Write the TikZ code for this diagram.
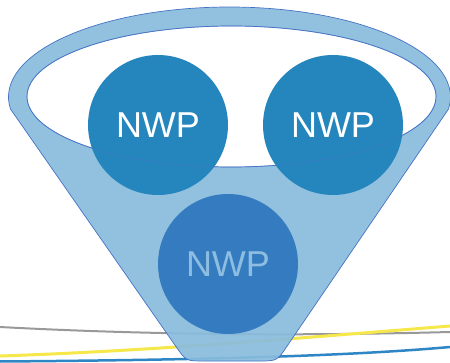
\documentclass[tikz,border=0pt]{standalone}
\usepackage{fontspec}
\setmainfont{Liberation Sans}
\usepackage{tikz}
\usetikzlibrary{calc}
\definecolor{funnelfill}{HTML}{89BCDD}
\definecolor{funneledge}{HTML}{4472C4}
\definecolor{nwptop}{HTML}{2586BE}
\definecolor{nwpbot}{HTML}{347BBF}
\definecolor{nwpfaint}{HTML}{8DBDE0}
\definecolor{lineblue}{HTML}{2E86C4}
\definecolor{lineyellow}{HTML}{F6E84A}
\tikzstyle{nwp} = [circle, minimum size=140pt, inner sep=0pt, text centered, font=\fontsize{36}{40}\selectfont]
\tikzstyle{nwpupper} = [nwp, fill=nwptop, text=white]
\tikzstyle{nwplower} = [nwp, fill=nwpbot, text=nwpfaint]
\tikzstyle{rim} = [draw=funneledge, line width=0.7pt]

\begin{document}
\begin{tikzpicture}[x=1pt,y=1pt]
            \useasboundingbox (0,0) rectangle (450,362);
            % lines behind the funnel
            \draw [gray!80,line width=2pt] (0,35) .. controls (150,27) and (300,26) .. (450,30);
            \draw [lineyellow,line width=3pt] (0,6) .. controls (150,11) and (300,24) .. (450,36);
            \draw [lineblue,line width=2.5pt] (0,0.5) .. controls (200,2) and (350,6) .. (450,15);
            % funnel
            \coordinate (rimcenter) at (229.5,265);
            \coordinate (rimleft) at ($(rimcenter)+(187.7:221 and 90)$);
            \draw [rim,fill=funnelfill,fill opacity=0.92]
                (rimleft) arc[start angle=187.7,end angle=-7.7,x radius=221,y radius=90]
                -- (287.1,15.9) .. controls (277,1) .. (259,1) -- (204,1)
                .. controls (186,1) .. (175.7,15.8) -- cycle;
            \draw [rim,fill=white] (231.5,265.5) ellipse [x radius=204.5,y radius=70.5];
            \node (nwpbottom) [nwplower] at (228,98) {NWP};
            \node (nwpleft) [nwpupper] at (158,237) {NWP};
            \node (nwpright) [nwpupper] at (333,237) {NWP};
            \draw [rim,draw opacity=0.6] (231.5,265.5) ellipse [x radius=204.5,y radius=70.5];
        \end{tikzpicture}
\end{document}
